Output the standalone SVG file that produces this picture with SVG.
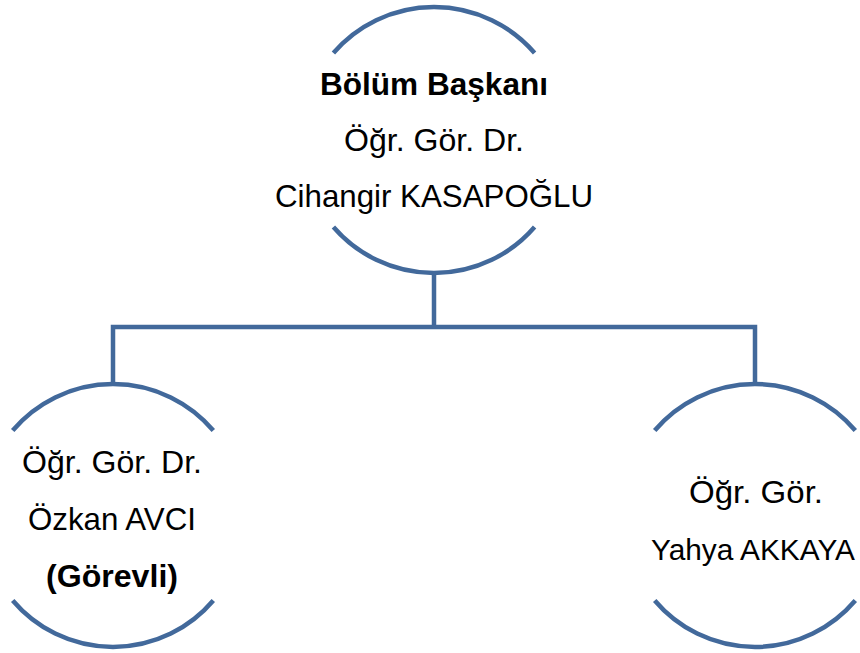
<svg xmlns="http://www.w3.org/2000/svg" width="860" height="653" viewBox="0 0 860 653">
<style>
.arc{fill:none;stroke:#42699B;stroke-width:4.5;stroke-linecap:butt}
.con{fill:none;stroke:#42699B;stroke-width:4.5;stroke-linejoin:miter}
text{font-family:"Liberation Sans",Arial,sans-serif;font-size:32px;fill:#000;text-anchor:middle}
.b{font-weight:bold}
</style>
<rect width="860" height="653" fill="#fff"/>
<g id="connectors">
<path class="con" d="M434 273 V327"/>
<path class="con" d="M113 385 V327 H755 V385"/>
</g>
<g id="node-top">
<path class="arc" d="M333.4 53 A133 133 0 0 1 534.6 53"/>
<path class="arc" d="M333.4 227 A133 133 0 0 0 534.6 227"/>
<text class="b" x="434" y="95" textLength="228" lengthAdjust="spacingAndGlyphs">Bölüm Başkanı</text>
<text x="434" y="151" textLength="180" lengthAdjust="spacingAndGlyphs">Öğr. Gör. Dr.</text>
<text x="434" y="207" textLength="318" lengthAdjust="spacingAndGlyphs">Cihangir KASAPOĞLU</text>
</g>
<g id="node-left">
<path class="arc" d="M12.7 430.5 A131.5 131.5 0 0 1 213.3 430.5"/>
<path class="arc" d="M12.7 600.5 A131.5 131.5 0 0 0 213.3 600.5"/>
<text x="112" y="473" textLength="180" lengthAdjust="spacingAndGlyphs">Öğr. Gör. Dr.</text>
<text x="112" y="530" textLength="168" lengthAdjust="spacingAndGlyphs">Özkan AVCI</text>
<text class="b" x="112" y="587" textLength="132" lengthAdjust="spacingAndGlyphs">(Görevli)</text>
</g>
<g id="node-right">
<path class="arc" d="M654.7 430.5 A131.5 131.5 0 0 1 855.3 430.5"/>
<path class="arc" d="M654.7 600.5 A131.5 131.5 0 0 0 855.3 600.5"/>
<text x="756" y="503" textLength="134" lengthAdjust="spacingAndGlyphs">Öğr. Gör.</text>
<text x="753" y="560" style="font-size:30px" textLength="204" lengthAdjust="spacingAndGlyphs">Yahya AKKAYA</text>
</g>
</svg>
